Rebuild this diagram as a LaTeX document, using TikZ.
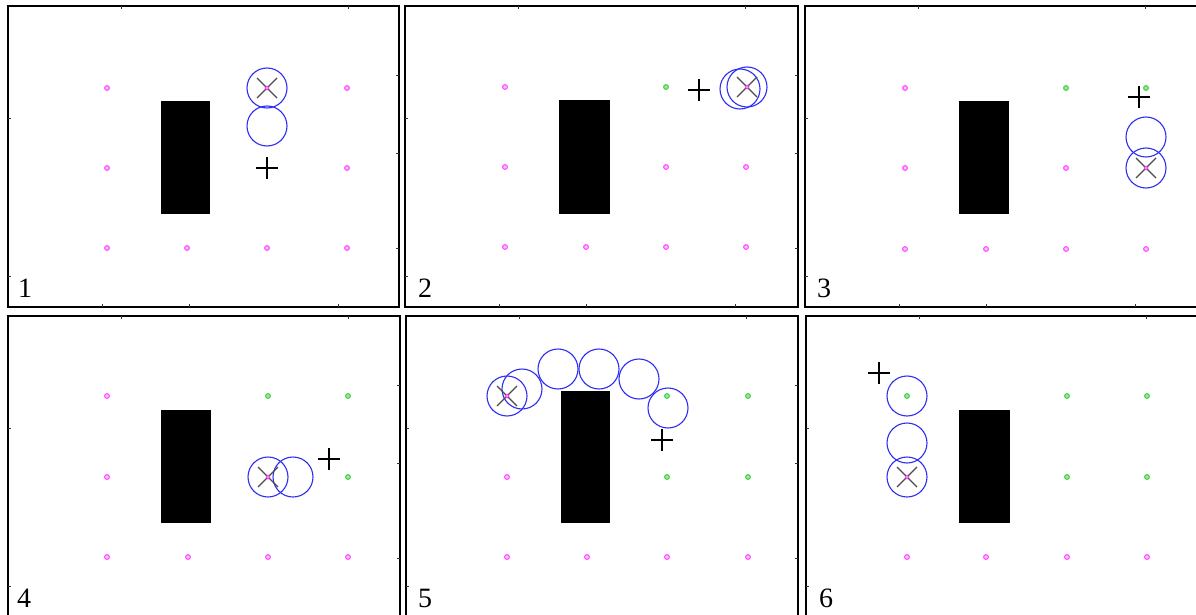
\documentclass[tikz,border=0pt]{standalone}
\usepackage{fontspec}
\setmainfont{Liberation Serif}
\definecolor{dotmag}{HTML}{FF40FF}
\definecolor{dotgrn}{HTML}{40CC40}
\definecolor{ringblue}{HTML}{2E2EF2}
\tikzset{
  frameline/.style={draw=black,line width=2pt},
  ticks/.style={draw=black!80,line width=0.8pt},
  obstacle/.style={fill=black,draw=black,line width=0.6pt},
  ring/.style={draw=ringblue,line width=1.1pt},
  xmark/.style={draw=black!70,line width=1.1pt},
  pmark/.style={draw=black,line width=1.3pt},
  mdot/.style={draw=dotmag,fill=dotmag!35,line width=1pt},
  gdot/.style={draw=dotgrn,fill=dotgrn!50,line width=1pt},
  lbl/.style={anchor=base west,inner sep=0pt,font=\fontsize{28}{28}\selectfont}
}
\newcommand{\panelframe}[4]{%
  \draw[frameline] (#1,#2) rectangle (#3,#4);
  \foreach \dx in {113,340} \draw[ticks] (#1+\dx,#2) -- ++(0,3);
  \foreach \dx in {94,181,330} \draw[ticks] (#1+\dx,#4) -- ++(0,-3);
  \foreach \dy in {112,270} \draw[ticks] (#1,#2+\dy) -- ++(3,0);
  \foreach \dy in {69,147,242} \draw[ticks] (#3,#2+\dy) -- ++(-3,0);
}
\newcommand{\ringx}[2]{%
  \draw[ring] (#1,#2) circle (20);
  \draw[xmark] (#1-10,#2-10) -- (#1+10,#2+10) (#1-10,#2+10) -- (#1+10,#2-10);
  \draw[mdot] (#1,#2) circle (1.8);
}
\newcommand{\ringo}[2]{\draw[ring] (#1,#2) circle (20);}
\newcommand{\pmk}[2]{\draw[pmark] (#1-11,#2) -- (#1+11,#2) (#1,#2-11) -- (#1,#2+11);}
\begin{document}
\begin{tikzpicture}[x=1pt,y=-1pt]
\useasboundingbox[fill=white] (0,0) rectangle (1196,615);
% ---------- Panel 1 ----------
\panelframe{8}{6}{399}{307}
\foreach \p in {(107,88),(347,88),(107,168),(347,168),(107,248),(187,248),(267,248),(347,248)} \draw[mdot] \p circle (2.4);
\fill[obstacle] (161,101) rectangle (209,213);
\ringx{267}{88}
\ringo{267}{126}
\pmk{267}{168}
\node[lbl] (l1) at (18,297) {1};
% ---------- Panel 2 ----------
\panelframe{405}{6}{798}{307}
\foreach \p in {(505,87),(505,167),(666,167),(746,167),(505,247),(586,247),(666,247),(746,247)} \draw[mdot] \p circle (2.4);
\draw[gdot] (666,87) circle (2.4);
\fill[obstacle] (559,100) rectangle (609,213);
\ringo{740}{89}
\ringx{747}{87}
\pmk{699}{90}
\node[lbl] (l2) at (418,297) {2};
% ---------- Panel 3 ----------
\panelframe{805}{6}{1210}{307}
\foreach \p in {(905,88),(905,168),(1066,168),(905,249),(986,249),(1066,249),(1146,249)} \draw[mdot] \p circle (2.4);
\foreach \p in {(1066,88),(1146,88)} \draw[gdot] \p circle (2.4);
\fill[obstacle] (959,101) rectangle (1008,213);
\ringo{1146}{137}
\ringx{1146}{168}
\pmk{1139}{97}
\node[lbl] (l3) at (817,297) {3};
% ---------- Panel 4 ----------
\panelframe{8}{316}{400}{625}
\foreach \p in {(107,396),(107,477),(107,557),(188,557),(268,557),(348,557)} \draw[mdot] \p circle (2.4);
\foreach \p in {(268,396),(348,396),(348,477)} \draw[gdot] \p circle (2.4);
\fill[obstacle] (161,410) rectangle (210,522);
\ringo{293}{477}
\ringx{268}{477}
\pmk{329}{459}
\node[lbl] (l4) at (17,607) {4};
% ---------- Panel 5 ----------
\panelframe{406}{316}{798}{625}
\foreach \p in {(507,477),(507,557),(587,557),(667,557),(748,557)} \draw[mdot] \p circle (2.4);
\foreach \p in {(667,396),(748,396),(667,477),(748,477)} \draw[gdot] \p circle (2.4);
\fill[obstacle] (561,391) rectangle (609,522);
\ringo{522}{389}
\ringo{558}{369}
\ringo{599}{369}
\ringo{639}{379}
\ringo{668}{408}
\ringx{507}{396}
\pmk{662}{440}
\node[lbl] (l5) at (418,607) {5};
% ---------- Panel 6 ----------
\panelframe{806}{316}{1210}{625}
\foreach \p in {(907,557),(986,557),(1067,557),(1147,557)} \draw[mdot] \p circle (2.4);
\foreach \p in {(907,396),(1067,396),(1147,396),(1067,477),(1147,477)} \draw[gdot] \p circle (2.4);
\fill[obstacle] (959,410) rectangle (1009,522);
\ringo{907}{396}
\ringo{907}{443}
\ringx{907}{477}
\pmk{879}{373}
\node[lbl] (l6) at (819,607) {6};
\end{tikzpicture}
\end{document}
